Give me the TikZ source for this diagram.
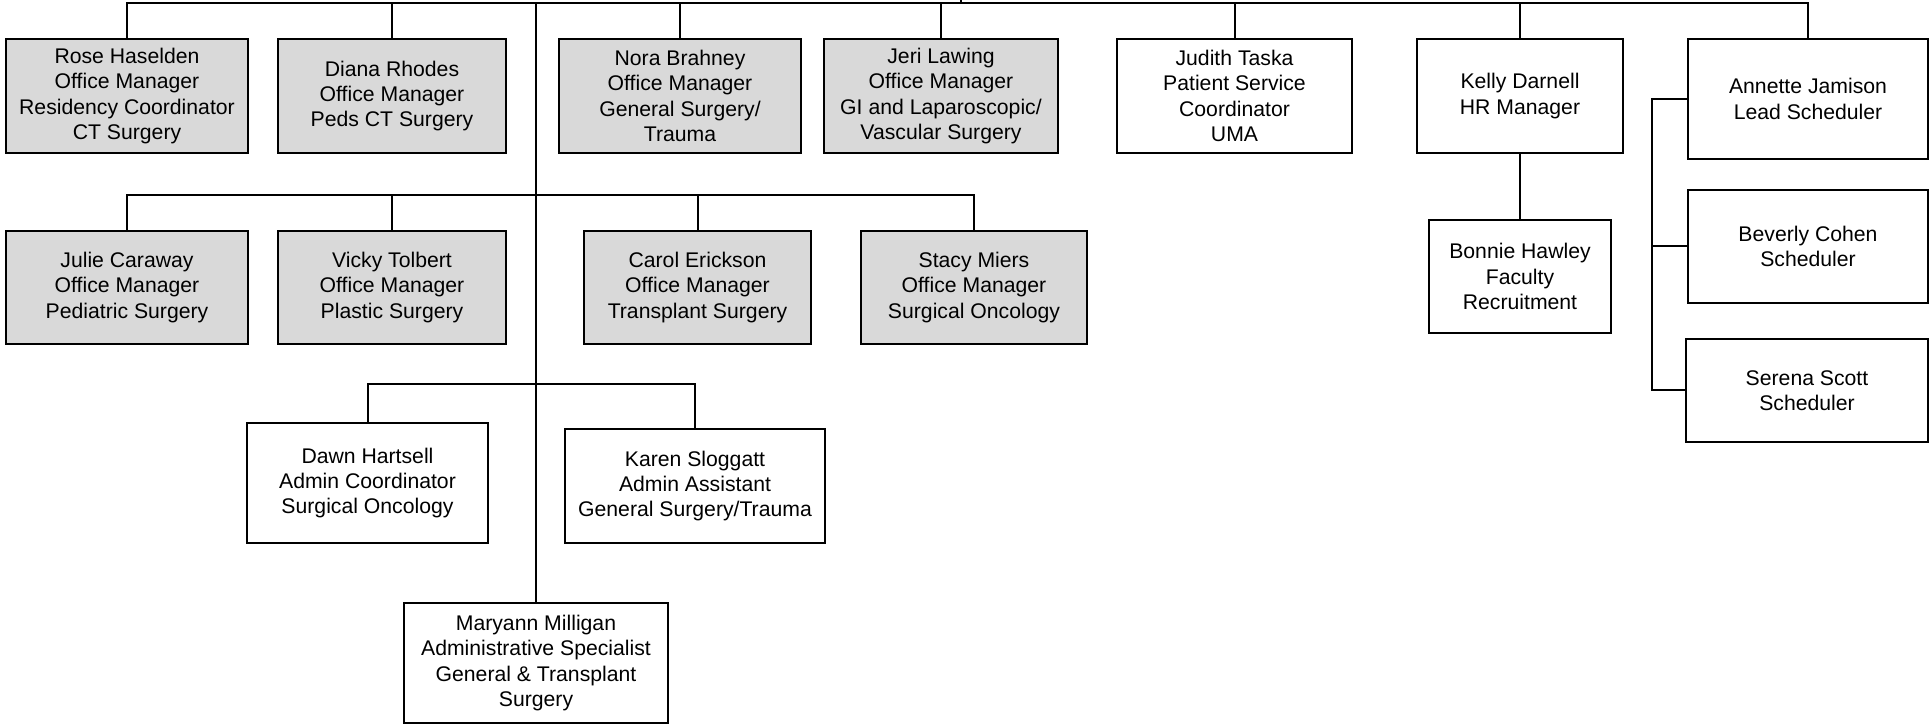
\documentclass[tikz,border=0pt]{standalone}
\usepackage{fontspec}
\setmainfont{Liberation Sans}
\usepackage{xcolor}
\usepackage{tikz}
\definecolor{officegray}{RGB}{217,217,217}

\begin{document}
\begin{tikzpicture}[x=0.5pt, y=-0.5pt,
    person/.style={rectangle, draw, align=center, inner sep=0pt, line width=1pt,
        font=\fontsize{10.6}{12.65}\selectfont},
    office/.style={person, fill=officegray},
    link/.style={line width=1pt}]
    \useasboundingbox (0,0) rectangle (1929,726);

    % Nodes
    \node (Rose) [office, minimum width=121pt, minimum height=57pt] at (127,96) {Rose Haselden\\Office Manager\\Residency Coordinator\\CT Surgery};
    \node (Diana) [office, minimum width=114pt, minimum height=57pt] at (392,96) {Diana Rhodes\\Office Manager\\Peds CT Surgery};
    \node (Nora) [office, minimum width=121pt, minimum height=57pt] at (680,96) {Nora Brahney\\Office Manager\\General Surgery/\\Trauma};
    \node (Jeri) [office, minimum width=117pt, minimum height=57pt] at (941,96) {Jeri Lawing\\Office Manager\\GI and Laparoscopic/\\Vascular Surgery};
    \node (Judith) [person, minimum width=117.5pt, minimum height=57pt] at (1234.5,96) {Judith Taska\\Patient Service\\Coordinator\\UMA};
    \node (Kelly) [person, minimum width=103pt, minimum height=57pt] at (1520,96) {Kelly Darnell\\HR Manager};
    \node (Annette) [person, minimum width=120pt, minimum height=60pt] at (1808,99) {Annette Jamison\\Lead Scheduler};

    \node (Julie) [office, minimum width=121pt, minimum height=56.5pt] at (127,287.5) {Julie Caraway\\Office Manager\\Pediatric Surgery};
    \node (Vicky) [office, minimum width=114pt, minimum height=56.5pt] at (392,287.5) {Vicky Tolbert\\Office Manager\\Plastic Surgery};
    \node (Carol) [office, minimum width=113.5pt, minimum height=56.5pt] at (697.5,287.5) {Carol Erickson\\Office Manager\\Transplant Surgery};
    \node (Stacy) [office, minimum width=113pt, minimum height=56.5pt] at (974,287.5) {Stacy Miers\\Office Manager\\Surgical Oncology};
    \node (Bonnie) [person, minimum width=91pt, minimum height=56.5pt] at (1520,276.5) {Bonnie Hawley\\Faculty\\Recruitment};
    \node (Beverly) [person, minimum width=120pt, minimum height=56.5pt] at (1808,246.5) {Beverly Cohen\\Scheduler};
    \node (Serena) [person, minimum width=121pt, minimum height=51.5pt] at (1807,390.5) {Serena Scott\\Scheduler};

    \node (Dawn) [person, minimum width=120.5pt, minimum height=60pt] at (367.5,483) {Dawn Hartsell\\Admin Coordinator\\Surgical Oncology};
    \node (Karen) [person, minimum width=130pt, minimum height=57pt] at (695,486) {Karen Sloggatt\\Admin Assistant\\General Surgery/Trauma};
    \node (Maryann) [person, minimum width=132pt, minimum height=60pt] at (536,663) {Maryann Milligan\\Administrative Specialist\\General \& Transplant\\Surgery};

    \coordinate (Parent) at (961,0);
    \coordinate (TopBus) at (961,3);
    \coordinate (OfficeBus) at (536,195);
    \coordinate (AdminBus) at (536,384);
    \coordinate (SchedBus) at (1652,99);

    % Edges
    \draw[link] (Parent) -- (TopBus);
    \draw[link] (Rose.north) -- (Rose.north |- TopBus) -- (Annette.north |- TopBus) -- (Annette.north);
    \draw[link] (Diana.north) -- (Diana.north |- TopBus);
    \draw[link] (Nora.north) -- (Nora.north |- TopBus);
    \draw[link] (Jeri.north) -- (Jeri.north |- TopBus);
    \draw[link] (Judith.north) -- (Judith.north |- TopBus);
    \draw[link] (Kelly.north) -- (Kelly.north |- TopBus);
    \draw[link] (Maryann.north) -- (Maryann.north |- TopBus);

    \draw[link] (Julie.north) -- (Julie.north |- OfficeBus) -- (Stacy.north |- OfficeBus) -- (Stacy.north);
    \draw[link] (Vicky.north) -- (Vicky.north |- OfficeBus);
    \draw[link] (Carol.north) -- (Carol.north |- OfficeBus);

    \draw[link] (Dawn.north) -- (Dawn.north |- AdminBus) -- (Karen.north |- AdminBus) -- (Karen.north);

    \draw[link] (Kelly.south) -- (Bonnie.north);

    \draw[link] (Annette.west) -- (Annette.west -| SchedBus) -- (Serena.west -| SchedBus) -- (Serena.west);
    \draw[link] (Beverly.west) -- (Beverly.west -| SchedBus);
\end{tikzpicture}
\end{document}
